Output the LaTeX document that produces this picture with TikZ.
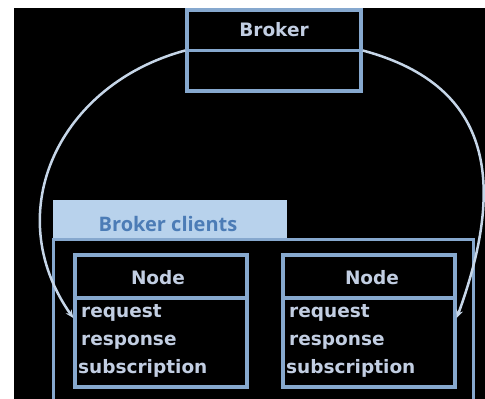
\documentclass[tikz,border=0pt]{standalone}
\usepackage{fontspec}
\setmainfont{DejaVu Sans}
\newfontfamily\tabfont{Open Sans}
\usetikzlibrary{arrows.meta}
\definecolor{frame}{HTML}{86A8CE}
\definecolor{arcline}{HTML}{C6D6E8}
\definecolor{labeltext}{HTML}{C2CEE2}
\definecolor{tabfill}{HTML}{B8D2EC}
\definecolor{tabtext}{HTML}{4C7CB6}

\begin{document}
\begin{tikzpicture}[x=1pt,y=1pt,
  box/.style={draw=frame, line width=3.5pt, inner sep=0pt},
  lbl/.style={font=\fontsize{18.5}{18.5}\selectfont\bfseries, text=labeltext, inner sep=0pt, anchor=base},
  item/.style={lbl, anchor=base west},
  link/.style={draw=arcline, line width=2.5pt, -{Stealth[length=8pt,width=7pt]}}]
\useasboundingbox (0,0) rectangle (485,399);
\fill[white] (0,0) rectangle (485,399);
\fill[black] (14,0) rectangle (485,391);

% broker class box
\node[box, minimum width=174pt, minimum height=81pt] (broker) at (274,348.5) {};
\draw[frame, line width=3.5pt] (broker.west) -- (broker.east);
\node[lbl] (brokertitle) at (274,362) {Broker};

% client package with its tab
\node[fill=tabfill, inner sep=0pt, minimum width=234pt, minimum height=40pt] (tab) at (170,179) {};
\node[font=\tabfont\fontsize{20}{20}\selectfont\bfseries, text=tabtext, inner sep=0pt, anchor=base] (tablabel) at (168,167) {Broker clients};
\node[box, line width=3pt, minimum width=420pt, minimum height=170pt] (clients) at (263,74) {};

% left node class
\node[box, minimum width=172pt, minimum height=132pt] (nodeA) at (161,78) {};
\draw[frame, line width=3.5pt] (nodeA.west |- 0,101) -- (nodeA.east |- 0,101);
\node[lbl] (titleA) at (158,114) {Node};
\node[item] (reqA) at (81,81) {request};
\node[item] (resA) at (81,53) {response};
\node[item] (subA) at (78,25) {subscription};

% right node class
\node[box, minimum width=172pt, minimum height=132pt] (nodeB) at (369,78) {};
\draw[frame, line width=3.5pt] (nodeB.west |- 0,101) -- (nodeB.east |- 0,101);
\node[lbl] (titleB) at (372,114) {Node};
\node[item] (reqB) at (289,81) {request};
\node[item] (resB) at (289,53) {response};
\node[item] (subB) at (286,25) {subscription};

% arrow end points on the node sides
\coordinate (inA) at (nodeA.west |- 0,81);
\coordinate (inB) at (nodeB.east |- 0,81);

% broker links
\draw[link] (broker.west) to[out=195, in=125, looseness=1.15] (inA);
\draw[link] (broker.east) to[out=-15, in=70, looseness=1.25] (inB);
\end{tikzpicture}
\end{document}
